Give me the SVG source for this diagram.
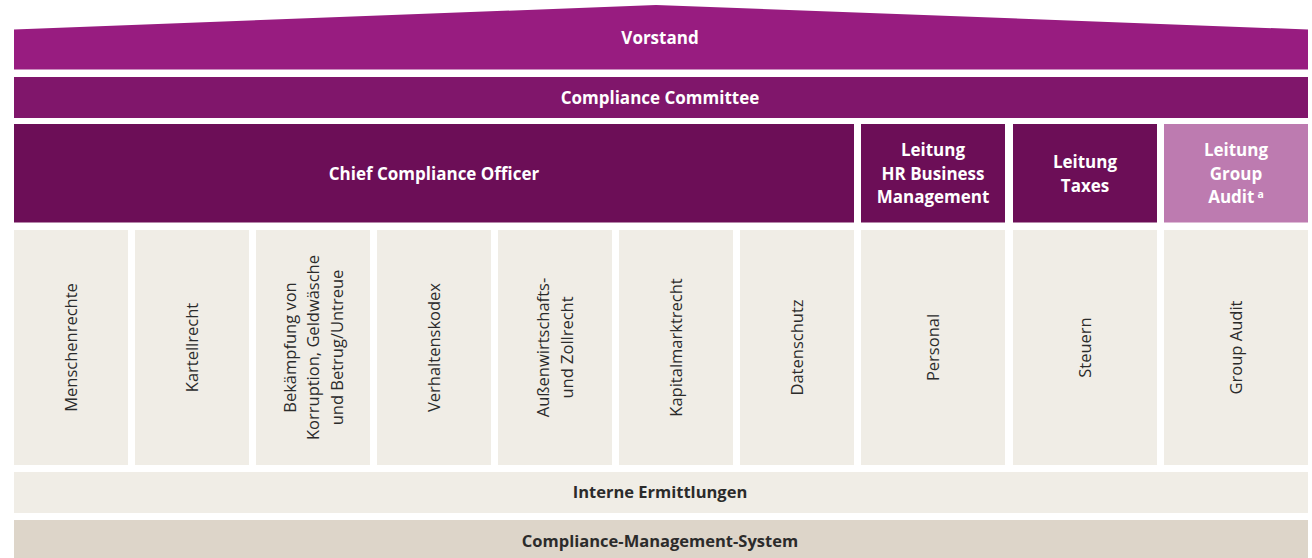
<svg xmlns="http://www.w3.org/2000/svg" width="1312" height="558" viewBox="0 0 1312 558">
<style>
.t{font-family:"Open Sans","Noto Sans","Liberation Sans",sans-serif;}
.hw{fill:#ffffff;font-weight:700;font-size:17px;text-anchor:middle;}
.bd{fill:#2b2b2b;font-weight:700;font-size:16.5px;text-anchor:middle;}
.vt{fill:#2b2b2b;font-size:16.5px;text-anchor:middle;}
.col{fill:#f0ede6;}
.sup{font-size:10.5px;}
</style>
<rect width="1312" height="558" fill="#ffffff"/>
<g id="vorstand">
<polygon points="14,29.5 656,5 1308,29.5 1308,69.5 14,69.5" fill="#981c80"/>
<text class="t hw" x="660" y="44">Vorstand</text>
</g>
<g id="committee">
<rect x="14" y="77" width="1294" height="41" fill="#80166b"/>
<text class="t hw" x="660" y="104">Compliance Committee</text>
</g>
<g id="cco">
<rect x="14" y="124" width="840" height="98.5" fill="#6c0e57"/>
<text class="t hw" x="434" y="180">Chief Compliance Officer</text>
</g>
<g id="hr">
<rect x="861" y="124" width="144" height="98.5" fill="#6c0e57"/>
<text class="t hw" x="933" y="156">Leitung<tspan x="933" dy="23.5">HR Business</tspan><tspan x="933" dy="23.5">Management</tspan></text>
</g>
<g id="taxes">
<rect x="1013" y="124" width="144" height="98.5" fill="#6c0e57"/>
<text class="t hw" x="1085" y="168">Leitung<tspan x="1085" dy="23.5">Taxes</tspan></text>
</g>
<g id="audit">
<rect x="1164" y="124" width="144" height="98.5" fill="#bd7bb0"/>
<text class="t hw" x="1236" y="156">Leitung<tspan x="1236" dy="23.5">Group</tspan><tspan x="1236" dy="23.5">Audit<tspan class="sup" dx="3" dy="-5">a</tspan></tspan></text>
</g>
<g id="c1"><rect class="col" x="14" y="230" width="114" height="235"/>
<text class="t vt" transform="translate(71,347.5) rotate(-90)" y="6">Menschenrechte</text></g>
<g id="c2"><rect class="col" x="135" y="230" width="114" height="235"/>
<text class="t vt" transform="translate(192,347.5) rotate(-90)" y="6">Kartellrecht</text></g>
<g id="c3"><rect class="col" x="256" y="230" width="114" height="235"/>
<text class="t vt" transform="translate(313,347.5) rotate(-90)" y="-17.5">Bekämpfung von<tspan x="0" dy="23.5">Korruption, Geldwäsche</tspan><tspan x="0" dy="23.5">und Betrug/Untreue</tspan></text></g>
<g id="c4"><rect class="col" x="377" y="230" width="114" height="235"/>
<text class="t vt" transform="translate(434,347.5) rotate(-90)" y="6">Verhaltenskodex</text></g>
<g id="c5"><rect class="col" x="498" y="230" width="114" height="235"/>
<text class="t vt" transform="translate(555,347.5) rotate(-90)" y="-6">Außenwirtschafts-<tspan x="0" dy="24">und Zollrecht</tspan></text></g>
<g id="c6"><rect class="col" x="619" y="230" width="114" height="235"/>
<text class="t vt" transform="translate(676,347.5) rotate(-90)" y="6">Kapitalmarktrecht</text></g>
<g id="c7"><rect class="col" x="740" y="230" width="114" height="235"/>
<text class="t vt" transform="translate(797,347.5) rotate(-90)" y="6">Datenschutz</text></g>
<g id="c8"><rect class="col" x="861" y="230" width="144" height="235"/>
<text class="t vt" transform="translate(933,347.5) rotate(-90)" y="6">Personal</text></g>
<g id="c9"><rect class="col" x="1013" y="230" width="144" height="235"/>
<text class="t vt" transform="translate(1085,347.5) rotate(-90)" y="6">Steuern</text></g>
<g id="c10"><rect class="col" x="1164" y="230" width="144" height="235"/>
<text class="t vt" transform="translate(1236,347.5) rotate(-90)" y="6">Group Audit</text></g>
<g id="ermittlungen">
<rect class="col" x="14" y="472" width="1294" height="41"/>
<text class="t bd" x="660" y="498">Interne Ermittlungen</text>
</g>
<g id="cms">
<rect x="14" y="520" width="1294" height="38" fill="#ddd5c9"/>
<text class="t bd" x="660" y="546.5">Compliance-Management-System</text>
</g>
<g id="connectors"></g>
</svg>
